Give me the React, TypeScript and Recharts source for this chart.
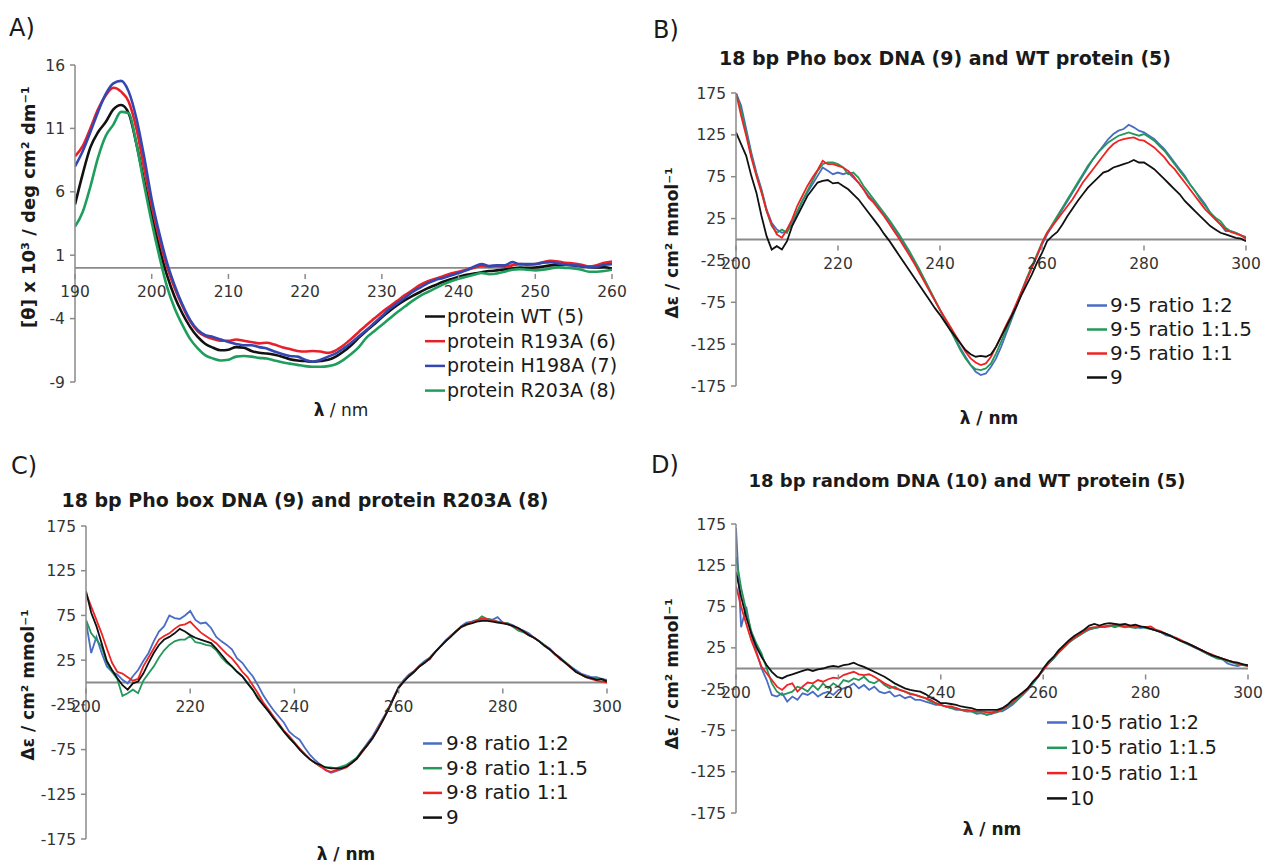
import { LineChart, Line, XAxis, YAxis, ReferenceLine } from "recharts";

const FONT = "'DejaVu Sans', sans-serif";
const AXIS = "#8a8a8a";

// wavelength grids (nm)
const nmA = Array.from({ length: 71 }, (_, i) => 190 + i);
const nmBCD = Array.from({ length: 101 }, (_, i) => 200 + i);

// panel A: [θ] x 10^3
const aWT = [5.0,7.4,9.5,10.7,11.5,12.5,12.85,12.2,9.8,6.9, 4.2,1.6,-0.6,-2.3,-3.6,-4.65,-5.45,-6.0,-6.3,-6.5, -6.45,-6.25,-6.3,-6.55,-6.7,-6.75,-6.85,-7.0,-7.2,-7.3, -7.35,-7.4,-7.35,-7.25,-7.0,-6.6,-6.1,-5.5,-4.95,-4.45, -3.9,-3.4,-2.95,-2.55,-2.2,-1.9,-1.6,-1.35,-1.1,-0.9, -0.7,-0.55,-0.45,-0.35,-0.25,-0.2,-0.13,-0.05,0.03,0.0, 0.03,0.1,0.2,0.22,0.25,0.2,0.13,0.08,0.03,0.05, -0.05];
const aR193A = [8.8,9.6,11.0,12.5,13.6,14.2,13.9,13.1,11.0,7.9, 4.9,2.3,0.1,-1.6,-3.0,-4.2,-5.0,-5.4,-5.6,-5.75, -5.75,-5.65,-5.75,-5.85,-5.95,-5.9,-6.05,-6.25,-6.4,-6.55, -6.6,-6.55,-6.6,-6.7,-6.5,-6.1,-5.6,-5.05,-4.5,-4.0, -3.5,-3.05,-2.6,-2.15,-1.75,-1.35,-1.05,-0.85,-0.65,-0.45, -0.3,-0.15,0.0,0.15,0.1,0.15,0.1,0.2,0.3,0.25, 0.3,0.45,0.55,0.5,0.4,0.35,0.25,0.1,0.2,0.4, 0.5];
const aH198A = [8.0,9.2,10.7,12.3,13.7,14.55,14.75,13.9,11.8,8.8, 5.4,2.7,0.4,-1.4,-2.9,-4.1,-4.9,-5.3,-5.45,-5.65, -5.85,-6.0,-6.1,-6.1,-6.25,-6.35,-6.6,-6.8,-6.95,-7.0, -7.25,-7.4,-7.25,-7.0,-6.75,-6.35,-5.9,-5.4,-4.9,-4.35, -3.8,-3.25,-2.8,-2.35,-1.9,-1.55,-1.2,-0.95,-0.8,-0.6, -0.4,-0.2,0.1,0.3,0.15,0.2,0.2,0.45,0.3,0.3, 0.3,0.4,0.45,0.35,0.25,0.2,0.15,0.05,0.1,0.25, 0.3];
const aR203A = [3.25,4.4,6.4,8.7,10.4,11.3,12.3,12.2,9.8,6.6, 3.6,0.9,-1.5,-3.2,-4.5,-5.6,-6.35,-6.9,-7.15,-7.3, -7.25,-7.0,-6.95,-7.0,-7.1,-7.15,-7.3,-7.45,-7.55,-7.65, -7.75,-7.8,-7.8,-7.75,-7.6,-7.25,-6.8,-6.25,-5.5,-5.0, -4.5,-4.0,-3.5,-3.05,-2.6,-2.2,-1.9,-1.6,-1.3,-1.05, -0.85,-0.7,-0.55,-0.4,-0.5,-0.45,-0.3,-0.15,-0.1,-0.15, -0.2,-0.15,-0.05,0.05,0.0,-0.05,-0.15,-0.3,-0.3,-0.25, -0.15];

// panel B: Pho box DNA (9) + WT protein (5)
const bRatio2 = [175,160,132,104,80,60,36,20,12,8, 10,18,32,46,56,66,76,86,82,78, 80,78,80,74,68,60,52,46,38,30, 22,13,4,-6,-16,-27,-38,-50,-62,-73, -84,-96,-107,-118,-130,-140,-150,-158,-162,-160, -152,-142,-128,-112,-96,-80,-64,-48,-34,-20, -6,6,16,26,36,46,56,66,76,86, 96,104,112,120,126,130,132,137,134,130, 128,124,120,114,108,100,92,84,76,66, 58,50,42,32,24,18,10,10,8,5, 2];
const bRatio15 = [175,155,128,100,78,58,34,16,8,12, 8,22,34,46,58,70,82,90,92,92, 90,86,78,80,74,64,56,48,40,32, 24,15,6,-4,-14,-25,-36,-48,-60,-72, -84,-96,-108,-120,-132,-142,-150,-155,-156,-154, -148,-136,-122,-108,-94,-78,-62,-46,-32,-18, -4,8,18,28,38,48,58,68,78,88, 96,104,110,116,120,124,126,128,126,124, 126,122,118,112,106,98,90,82,74,66, 58,48,40,32,26,22,14,10,8,5, 3];
const bRatio1 = [175,148,124,98,76,56,34,18,6,2, 12,24,40,52,64,74,83,94,90,90, 88,86,82,76,68,60,50,44,36,28, 19,10,1,-9,-19,-29,-40,-51,-62,-73, -84,-94,-104,-114,-124,-134,-142,-147,-150,-148, -140,-128,-115,-102,-90,-76,-62,-48,-34,-20, -4,8,16,24,32,40,48,58,68,76, 84,92,100,108,114,118,120,121,122,119, 118,114,110,104,98,90,84,76,68,60, 52,44,36,30,24,18,12,9,7,5, 1];
const bDna9 = [128,114,100,76,56,28,4,-12,-8,-12, -2,16,28,40,52,60,68,70,71,67, 68,64,60,54,48,40,32,24,16,7, -1,-10,-19,-28,-37,-46,-55,-64,-73,-82, -90,-99,-108,-116,-124,-132,-137,-140,-139,-140, -137,-128,-116,-104,-92,-80,-66,-54,-42,-28, -16,-2,4,9,18,28,37,46,54,62, 68,74,80,82,86,88,90,92,95,92, 92,88,84,78,72,66,60,54,46,40, 34,28,22,16,12,8,6,4,2,1, -2];

// panel C: Pho box DNA (9) + R203A (8)
const cRatio2 = [68,33,51,33,18,12,9,3,-1,7, 14,24,33,46,57,63,75,72,71,75, 80,70,66,67,61,51,46,42,37,27, 22,14,7,-3,-14,-23,-31,-38,-45,-55, -60,-64,-73,-81,-87,-92,-98,-101,-99,-97, -94,-89,-84,-76,-68,-60,-50,-40,-30,-17, -5,3,9,13,19,24,28,34,40,47, 52,57,63,67,68,70,70,71,70,73, 67,66,64,60,58,55,50,46,42,38, 32,28,22,18,14,10,8,6,6,4, 3];
const cRatio15 = [70,55,48,40,22,12,4,-15,-12,-8, -12,2,10,18,28,36,42,46,48,48, 52,45,44,42,41,36,28,22,18,12, 7,0,-8,-16,-24,-32,-40,-48,-55,-62, -68,-74,-80,-86,-90,-94,-95,-95,-96,-94, -92,-88,-84,-76,-70,-63,-52,-42,-30,-18, -5,2,7,12,18,23,26,34,40,46, 52,57,62,64,67,69,74,71,70,68, 67,66,62,58,56,53,50,46,42,37, 31,27,23,18,12,9,6,4,4,3, 2];
const cRatio1 = [100,85,70,55,38,22,12,10,6,2, 4,18,28,38,48,52,55,60,64,65, 68,62,56,52,48,44,38,32,27,20, 12,6,-3,-12,-22,-30,-38,-46,-54,-60, -67,-74,-80,-86,-90,-94,-98,-100,-98,-97, -95,-90,-85,-78,-70,-62,-52,-42,-30,-18, -6,2,8,13,18,22,27,34,40,46, 52,57,62,65,67,69,72,71,69,68, 67,65,63,60,57,53,50,46,41,37, 32,26,22,17,12,9,6,4,2,1, 0];
const cDna9 = [102,78,63,44,24,14,5,-3,-8,-1, 1,10,22,33,42,48,51,55,60,57, 53,50,48,46,44,38,31,24,18,12, 7,-1,-8,-18,-25,-32,-40,-47,-55,-62, -68,-75,-81,-86,-90,-92,-95,-96,-96,-96, -94,-90,-85,-77,-70,-62,-53,-42,-31,-18, -6,1,7,12,18,22,27,34,40,46, 51,57,62,65,66,68,69,69,68,67, 66,65,63,61,57,53,50,46,41,37, 32,27,22,17,12,9,6,5,3,4, 1];

// panel D: random DNA (10) + WT protein (5)
const dRatio2 = [170,50,75,40,20,0,-14,-32,-34,-30, -40,-34,-38,-30,-32,-28,-34,-30,-28,-32, -26,-24,-22,-18,-24,-20,-26,-22,-28,-30, -28,-34,-32,-36,-34,-38,-38,-40,-42,-44, -44,-46,-48,-50,-50,-52,-52,-55,-54,-56, -55,-52,-52,-48,-44,-38,-32,-26,-18,-10, -2,6,12,20,26,32,36,40,44,47, 49,50,50,51,52,51,50,51,50,49, 50,48,46,44,40,39,36,33,30,27, 24,22,18,15,14,11,6,4,3,5, 3];
const dRatio15 = [135,98,70,45,30,18,0,-18,-28,-32, -30,-28,-22,-24,-28,-20,-26,-18,-24,-18, -22,-14,-16,-12,-14,-10,-16,-18,-14,-20, -24,-22,-26,-28,-30,-32,-34,-36,-40,-42, -44,-46,-48,-48,-50,-52,-52,-54,-54,-56, -54,-53,-50,-46,-42,-37,-32,-25,-18,-10, -2,6,12,19,25,31,36,40,44,48, 49,50,51,52,50,52,51,50,49,51, 49,48,46,44,42,40,36,33,30,28, 25,21,18,15,12,11,9,7,5,4, 3];
const dRatio1 = [100,75,54,34,18,2,-6,-14,-22,-26, -20,-18,-28,-22,-17,-18,-14,-16,-13,-11, -12,-8,-6,-4,-7,-8,-7,-10,-14,-18, -21,-24,-26,-28,-31,-32,-34,-36,-38,-42, -44,-46,-46,-48,-50,-50,-51,-52,-52,-53, -53,-52,-49,-45,-40,-35,-30,-24,-16,-9, -2,6,13,20,26,32,37,41,45,49, 50,50,51,52,53,52,51,52,51,50, 50,51,47,45,42,39,37,34,31,28, 25,22,19,17,14,12,10,8,6,5, 3];
const dDna10 = [117,87,62,42,26,14,4,-4,-10,-12, -9,-7,-5,-3,-1,-3,-1,0,2,3, 2,4,5,7,4,2,-1,-4,-7,-10, -14,-18,-21,-24,-26,-27,-28,-31,-35,-38, -42,-42,-43,-44,-46,-47,-48,-50,-50,-50, -50,-50,-48,-44,-38,-34,-29,-24,-16,-10, 0,8,14,22,28,34,39,43,47,52, 54,52,54,55,54,53,54,52,53,51, 50,48,46,44,42,39,36,33,31,28, 25,22,19,16,14,12,10,8,7,5, 4];

const ticksA = [-9, -4, 1, 6, 11, 16];
const ticksDe = [-175, -125, -75, -25, 25, 75, 125, 175];
const xTicksA = [190, 200, 210, 220, 230, 240, 250, 260];
const xTicksB = [200, 220, 240, 260, 280, 300];

type Series = { key: string; name: string; color: string; values: number[] };

const seriesA: Series[] = [
  { key: "wt", name: "protein WT (5)", color: "#111111", values: aWT },
  { key: "r193", name: "protein R193A (6)", color: "#e8202a", values: aR193A },
  { key: "h198", name: "protein H198A (7)", color: "#3447b0", values: aH198A },
  { key: "r203", name: "protein R203A (8)", color: "#1f9d5c", values: aR203A },
];
const BLUE = "#4a6cc4";
const GREEN = "#23985a";
const RED = "#ee2424";
const BLACK = "#111111";
const seriesB: Series[] = [
  { key: "r2", name: "9·5 ratio 1:2", color: BLUE, values: bRatio2 },
  { key: "r15", name: "9·5 ratio 1:1.5", color: GREEN, values: bRatio15 },
  { key: "r1", name: "9·5 ratio 1:1", color: RED, values: bRatio1 },
  { key: "dna", name: "9", color: BLACK, values: bDna9 },
];
const seriesC: Series[] = [
  { key: "r2", name: "9·8 ratio 1:2", color: BLUE, values: cRatio2 },
  { key: "r15", name: "9·8 ratio 1:1.5", color: GREEN, values: cRatio15 },
  { key: "r1", name: "9·8 ratio 1:1", color: RED, values: cRatio1 },
  { key: "dna", name: "9", color: BLACK, values: cDna9 },
];
const seriesD: Series[] = [
  { key: "r2", name: "10·5 ratio 1:2", color: BLUE, values: dRatio2 },
  { key: "r15", name: "10·5 ratio 1:1.5", color: GREEN, values: dRatio15 },
  { key: "r1", name: "10·5 ratio 1:1", color: RED, values: dRatio1 },
  { key: "dna", name: "10", color: BLACK, values: dDna10 },
];

type PanelProps = {
  x0: number; y0: number; x1: number; y1: number;
  nm: number[]; series: Series[];
  xDomain: [number, number]; xTicks: number[];
  yDomain: [number, number]; yTicks: number[];
  lineWidth: number; curve: "monotone" | "linear";
};

function Panel(p: PanelProps) {
  const ML = 70, MT = 12, MR = 16, MB = 13, XH = 1;
  const data = p.nm.map((v, i) => {
    const row: Record<string, number> = { nm: v };
    p.series.forEach((s) => (row[s.key] = s.values[i]));
    return row;
  });
  const plotH = p.y1 - p.y0;
  // x axis crosses at y = 0, so labels sit on the zero line
  const lift = (plotH * (0 - p.yDomain[0])) / (p.yDomain[1] - p.yDomain[0]);
  const xTick = (t: any) => {
    const zy = t.y - lift;
    return (
      <g>
        <line x1={t.x} x2={t.x} y1={zy} y2={zy + 5} stroke={AXIS} strokeWidth={1.5} />
        <text x={t.x} y={zy + 23} textAnchor="middle" fontSize={15.5} fontFamily={FONT} fill="#333">
          {t.payload.value}
        </text>
      </g>
    );
  };
  return (
    <div style={{ position: "absolute", left: p.x0 - ML, top: p.y0 - MT }}>
      <LineChart
        width={p.x1 - p.x0 + ML + MR}
        height={plotH + MT + MB + XH}
        data={data}
        margin={{ top: MT, right: MR, bottom: MB, left: 0 }}
      >
        <XAxis
          dataKey="nm"
          type="number"
          domain={p.xDomain}
          ticks={p.xTicks}
          interval={0}
          height={XH}
          axisLine={false}
          tickLine={false}
          tickMargin={0}
          tick={xTick}
          allowDataOverflow
        />
        <YAxis
          width={ML}
          type="number"
          domain={p.yDomain}
          ticks={p.yTicks}
          interval={0}
          allowDataOverflow
          axisLine={{ stroke: AXIS, strokeWidth: 1.5 }}
          tickLine={{ stroke: AXIS, strokeWidth: 1.5 }}
          tickSize={5}
          tickMargin={5}
          tick={{ fill: "#333", fontSize: 15.5, fontFamily: FONT }}
        />
        <ReferenceLine y={0} stroke={AXIS} strokeWidth={1.8} />
        {p.series.map((s) => (
          <Line
            key={s.key}
            type={p.curve}
            dataKey={s.key}
            name={s.name}
            stroke={s.color}
            strokeWidth={p.lineWidth}
            dot={false}
            isAnimationActive={false}
          />
        ))}
      </LineChart>
    </div>
  );
}

function LegendBox({ series, lx0, lx1, tx, y0, dy, fs }: { series: Series[]; lx0: number; lx1: number; tx: number; y0: number; dy: number; fs: number }) {
  return (
    <g>
      {series.map((s, i) => {
        const by = y0 + i * dy;
        return (
          <g key={s.key}>
            <line x1={lx0} x2={lx1} y1={by - 6.5} y2={by - 6.5} stroke={s.color} strokeWidth={2.5} />
            <text x={tx} y={by} fontSize={fs} fontFamily={FONT} fill="#1a1a1a">{s.name}</text>
          </g>
        );
      })}
    </g>
  );
}

export default function App() {
  const bold = { fontFamily: FONT, fontWeight: 700, fill: "#1a1a1a" } as const;
  return (
    <div style={{ position: "absolute", left: 0, top: 0, width: 1263, height: 867, background: "#fff", overflow: "hidden" }}>
      <Panel x0={75} y0={65} x1={612} y1={382} nm={nmA} series={seriesA} xDomain={[190, 260]} xTicks={xTicksA} yDomain={[-9, 16]} yTicks={ticksA} lineWidth={2.6} curve="monotone" />
      <Panel x0={736} y0={93} x1={1246} y1={386} nm={nmBCD} series={seriesB} xDomain={[200, 300]} xTicks={xTicksB} yDomain={[-175, 175]} yTicks={ticksDe} lineWidth={1.8} curve="linear" />
      <Panel x0={86} y0={526} x1={607} y1={839} nm={nmBCD} series={seriesC} xDomain={[200, 300]} xTicks={xTicksB} yDomain={[-175, 175]} yTicks={ticksDe} lineWidth={1.8} curve="linear" />
      <Panel x0={736} y0={524} x1={1248} y1={813} nm={nmBCD} series={seriesD} xDomain={[200, 300]} xTicks={xTicksB} yDomain={[-175, 175]} yTicks={ticksDe} lineWidth={1.8} curve="linear" />

      <svg width={1263} height={867} style={{ position: "absolute", left: 0, top: 0, pointerEvents: "none" }}>
        <g fontFamily={FONT} fontSize={24} fill="#1a1a1a">
          <text x={9} y={36}>A)</text>
          <text x={653} y={38}>B)</text>
          <text x={11} y={474}>C)</text>
          <text x={651} y={473}>D)</text>
        </g>

        <text x={945} y={65} textAnchor="middle" fontSize={19} {...bold}>18 bp Pho box DNA (9) and WT protein (5)</text>
        <text x={305} y={507} textAnchor="middle" fontSize={19} {...bold}>18 bp Pho box DNA (9) and protein R203A (8)</text>
        <text x={967} y={487} textAnchor="middle" fontSize={18} {...bold}>18 bp random DNA (10) and WT protein (5)</text>

        <text x={341} y={416} textAnchor="middle" fontSize={17} fontFamily={FONT} fill="#1a1a1a">
          <tspan fontWeight={700}>λ</tspan> / nm
        </text>
        <text x={989} y={424} textAnchor="middle" fontSize={17} {...bold}>λ / nm</text>
        <text x={346} y={860} textAnchor="middle" fontSize={17} {...bold}>λ / nm</text>
        <text x={992} y={835} textAnchor="middle" fontSize={17} {...bold}>λ / nm</text>

        <text x={35} y={207} transform="rotate(-90 35 207)" textAnchor="middle" fontSize={18} {...bold}>[θ] x 10³ / deg cm² dm⁻¹</text>
        <text x={678} y={243} transform="rotate(-90 678 243)" textAnchor="middle" fontSize={17} {...bold}>Δε / cm² mmol⁻¹</text>
        <text x={34} y={685} transform="rotate(-90 34 685)" textAnchor="middle" fontSize={17} {...bold}>Δε / cm² mmol⁻¹</text>
        <text x={678} y={674} transform="rotate(-90 678 674)" textAnchor="middle" fontSize={17} {...bold}>Δε / cm² mmol⁻¹</text>

        <LegendBox series={seriesA} lx0={425} lx1={445} tx={447} y0={323} dy={24.7} fs={19} />
        <LegendBox series={seriesB} lx0={1087} lx1={1107} tx={1110} y0={312} dy={24} fs={20} />
        <LegendBox series={seriesC} lx0={423} lx1={442} tx={446} y0={750} dy={24.7} fs={20} />
        <LegendBox series={seriesD} lx0={1047} lx1={1067} tx={1070} y0={729} dy={25.3} fs={19} />
      </svg>
    </div>
  );
}
